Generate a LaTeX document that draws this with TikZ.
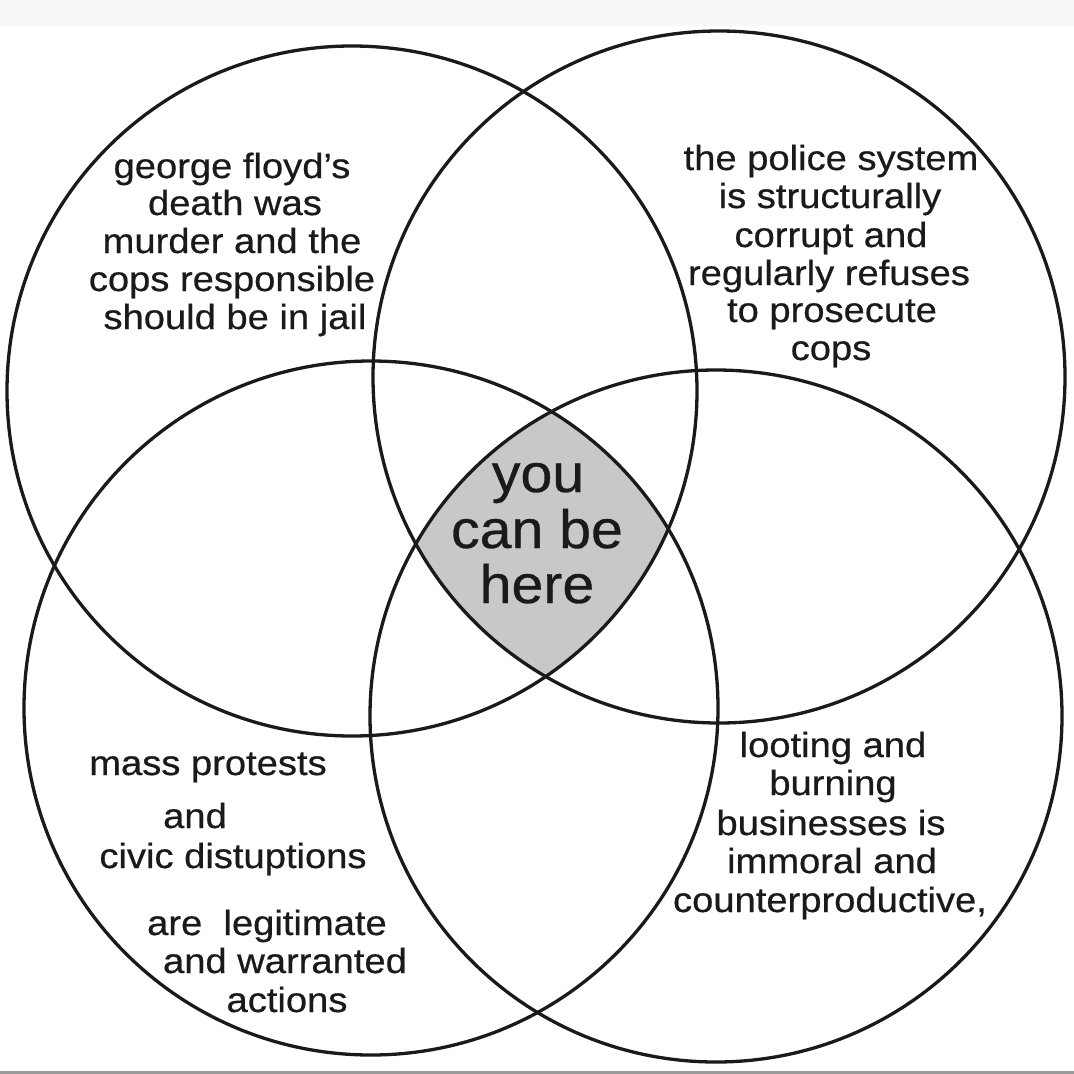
\documentclass[tikz,border=0pt]{standalone}
\usepackage{fontspec}
\setmainfont{Liberation Sans}[FakeBold=0.5]
\definecolor{lensgray}{HTML}{C8C8C8}
\definecolor{inkc}{HTML}{1A1A1A}
\definecolor{bandc}{HTML}{F8F8F8}
\definecolor{rulec}{HTML}{9A9A9A}
\newcommand\mystretch[1]{\scalebox{1.09}[1]{#1}}
\newcommand\mystretchc[1]{\scalebox{1.06}[1]{#1}}
\begin{document}
\begin{tikzpicture}[x=1pt,y=-1pt,
  ring/.style={line width=3.3pt,draw=inkc},
  lbl/.style={anchor=base,inner sep=0pt,text=inkc,font=\fontsize{35}{38}\selectfont},
  bigl/.style={anchor=base,inner sep=0pt,text=inkc,font=\fontsize{54}{56}\selectfont}]
\useasboundingbox (0,0) rectangle (1074,1074);
\fill[white] (0,0) rectangle (1074,1074);
\fill[bandc] (0,0) rectangle (1074,26);
\fill[rulec] (0,1071) rectangle (1074,1074);
% shaded centre
\begin{scope}
  \clip (352,391) circle (345pt);
  \clip (719,377) circle (346pt);
  \clip (371,708) circle (347pt);
  \fill[lensgray] (716,716) circle (346pt);
\end{scope}
% circles
\draw[ring] (352,391) circle (345pt);
\draw[ring] (719,377) circle (346pt);
\draw[ring] (371,708) circle (347pt);
\draw[ring] (716,716) circle (346pt);
% top left
\node[lbl] (tl1) at (232,178) {\mystretch{george floyd’s}};
\node[lbl] (tl2) at (235,215) {\mystretch{death was}};
\node[lbl] (tl3) at (232,253) {\mystretch{murder and the}};
\node[lbl] (tl4) at (232,291) {\mystretch{cops responsible}};
\node[lbl] (tl5) at (235,329) {\mystretch{should be in jail}};
% top right
\node[lbl] (tr1) at (831,170) {\mystretch{the police system}};
\node[lbl] (tr2) at (830,208) {\mystretch{is structurally}};
\node[lbl] (tr3) at (831,247) {\mystretch{corrupt and}};
\node[lbl] (tr4) at (829,285) {\mystretch{regularly refuses}};
\node[lbl] (tr5) at (832,322) {\mystretch{to prosecute}};
\node[lbl] (tr6) at (831,360) {\mystretch{cops}};
% centre
\node[bigl] (c1) at (538,492) {\mystretchc{you}};
\node[bigl] (c2) at (537,548) {\mystretchc{can be}};
\node[bigl] (c3) at (537,603) {\mystretchc{here}};
% bottom left
\node[lbl] (bl1) at (208,775) {\mystretch{mass protests}};
\node[lbl] (bl2) at (195,828) {\mystretch{and}};
\node[lbl] (bl3) at (233,868) {\mystretch{civic distuptions}};
\node[lbl] (bl4) at (267,935) {\mystretch{are\ \ legitimate}};
\node[lbl] (bl5) at (285,973) {\mystretch{and warranted}};
\node[lbl] (bl6) at (287,1012) {\mystretch{actions}};
% bottom right
\node[lbl] (br1) at (833,757) {\mystretch{looting and}};
\node[lbl] (br2) at (833,795) {\mystretch{burning}};
\node[lbl] (br3) at (831,835) {\mystretch{businesses is}};
\node[lbl] (br4) at (832,873) {\mystretch{immoral and}};
\node[lbl] (br5) at (830,912) {\mystretch{counterproductive,}};
\end{tikzpicture}
\end{document}
